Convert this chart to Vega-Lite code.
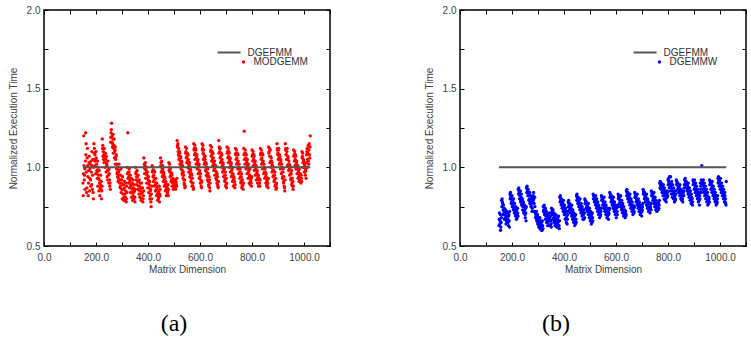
{
"$schema":"https://vega.github.io/schema/vega-lite/v6.json",
"padding":{"left":7,"top":4,"right":0,"bottom":0},
"config":{
 "view":{"stroke":"#000","strokeWidth":1.5},
 "axis":{"labelFont":"Liberation Sans","labelFontSize":10,"labelColor":"#444","titleFont":"Liberation Sans","titleFontSize":10,"titleFontWeight":"normal","titleColor":"#444","tickColor":"#000","tickWidth":1,"domain":false,"grid":false,"labelOverlap":false,"labelFlush":false},
 "legend":{"labelFont":"Liberation Sans","labelFontSize":10,"labelColor":"#333","padding":0},
 "title":{"font":"Liberation Serif","fontSize":24,"fontWeight":"normal","color":"#000"}
},
"datasets":{
"r":[{"x":150,"x2":1024,"y":1}],
"a":[{"x":150,"y":0.90},{"x":152,"y":0.96},{"x":154,"y":1.01},{"x":156,"y":0.95},{"x":158,"y":0.86},
{"x":160,"y":1.22},{"x":162,"y":1.15},{"x":164,"y":0.84},{"x":166,"y":1.06},{"x":168,"y":1.01},{"x":170,"y":0.82},{"x":172,"y":0.98},{"x":174,"y":1.07},{"x":176,"y":0.93},{"x":178,"y":1.02},{"x":180,"y":0.88},{"x":182,"y":0.97},{"x":184,"y":1.10},{"x":186,"y":0.86},{"x":188,"y":1.05},{"x":190,"y":0.80},
{"x":192,"y":1.15},{"x":194,"y":1.12},{"x":196,"y":1.08},{"x":198,"y":1.05},{"x":200,"y":1.10},{"x":202,"y":1.02},{"x":204,"y":0.97},{"x":206,"y":1.04},{"x":208,"y":1.00},{"x":210,"y":0.93},{"x":212,"y":0.98},{"x":214,"y":0.90},{"x":216,"y":0.87},{"x":218,"y":0.95},{"x":220,"y":0.91},{"x":222,"y":0.85},
{"x":224,"y":1.18},{"x":226,"y":1.14},{"x":228,"y":1.10},{"x":230,"y":1.08},{"x":232,"y":1.12},{"x":234,"y":1.06},{"x":236,"y":1.09},{"x":238,"y":1.03},{"x":240,"y":1.07},{"x":242,"y":1.01},{"x":244,"y":0.98},{"x":246,"y":1.04},{"x":248,"y":0.95},{"x":250,"y":0.99},{"x":252,"y":0.92},{"x":254,"y":0.90},
{"x":256,"y":1.16},{"x":258,"y":1.22},{"x":260,"y":1.28},{"x":262,"y":1.20},{"x":264,"y":1.15},{"x":266,"y":1.21},{"x":268,"y":1.12},{"x":270,"y":1.18},{"x":272,"y":1.10},{"x":274,"y":1.13},{"x":276,"y":1.05},{"x":278,"y":1.08},{"x":280,"y":1.02},{"x":282,"y":0.97},{"x":284,"y":1.00},{"x":286,"y":0.93},
{"x":288,"y":1.02},{"x":290,"y":0.95},{"x":292,"y":0.92},{"x":294,"y":0.88},{"x":296,"y":0.99},{"x":298,"y":0.90},{"x":300,"y":0.86},{"x":302,"y":0.94},{"x":304,"y":0.83},{"x":306,"y":0.89},{"x":308,"y":0.81},{"x":310,"y":0.91},{"x":312,"y":0.79},{"x":314,"y":0.85},{"x":316,"y":0.78},{"x":318,"y":0.88},
{"x":320,"y":1.00},{"x":322,"y":1.22},{"x":324,"y":0.97},{"x":326,"y":0.94},{"x":328,"y":0.99},{"x":330,"y":0.91},{"x":332,"y":0.95},{"x":334,"y":0.88},{"x":336,"y":0.93},{"x":338,"y":0.84},{"x":340,"y":0.90},{"x":342,"y":0.82},{"x":344,"y":0.87},{"x":346,"y":0.80},{"x":348,"y":0.85},{"x":350,"y":0.78},
{"x":352,"y":1.00},{"x":354,"y":0.97},{"x":356,"y":0.94},{"x":358,"y":0.98},{"x":360,"y":0.91},{"x":362,"y":0.95},{"x":364,"y":0.88},{"x":366,"y":0.92},{"x":368,"y":0.85},{"x":370,"y":0.90},{"x":372,"y":0.83},{"x":374,"y":0.87},{"x":376,"y":0.80},{"x":378,"y":0.84},{"x":380,"y":0.78},{"x":382,"y":0.82},
{"x":384,"y":1.06},{"x":386,"y":1.02},{"x":388,"y":0.99},{"x":390,"y":1.03},{"x":392,"y":0.96},{"x":394,"y":1.00},{"x":396,"y":0.93},{"x":398,"y":0.97},{"x":400,"y":0.90},{"x":402,"y":0.94},{"x":404,"y":0.87},{"x":406,"y":0.91},{"x":408,"y":0.82},{"x":410,"y":0.86},{"x":412,"y":0.75},{"x":414,"y":0.80},
{"x":416,"y":1.01},{"x":418,"y":0.98},{"x":420,"y":1.00},{"x":422,"y":0.95},{"x":424,"y":0.92},{"x":426,"y":0.97},{"x":428,"y":0.89},{"x":430,"y":0.93},{"x":432,"y":0.86},{"x":434,"y":0.90},{"x":436,"y":0.83},{"x":438,"y":0.88},{"x":440,"y":0.80},{"x":442,"y":0.85},{"x":444,"y":0.78},{"x":446,"y":0.82},
{"x":448,"y":1.06},{"x":450,"y":1.03},{"x":452,"y":1.00},{"x":454,"y":0.98},{"x":456,"y":1.01},{"x":458,"y":0.95},{"x":460,"y":0.97},{"x":462,"y":0.92},{"x":464,"y":0.94},{"x":466,"y":0.89},{"x":468,"y":0.91},{"x":470,"y":0.86},{"x":472,"y":0.88},{"x":474,"y":0.83},{"x":476,"y":0.85},{"x":478,"y":0.82},
{"x":480,"y":1.03},{"x":482,"y":1.00},{"x":484,"y":0.97},{"x":486,"y":0.99},{"x":488,"y":0.95},{"x":490,"y":0.92},{"x":492,"y":0.96},{"x":494,"y":0.90},{"x":496,"y":0.93},{"x":498,"y":0.88},{"x":500,"y":0.91},{"x":502,"y":0.87},{"x":504,"y":0.89},{"x":506,"y":0.86},{"x":508,"y":0.90},{"x":510,"y":0.88},
{"x":512,"y":1.17},{"x":514,"y":1.14},{"x":516,"y":1.10},{"x":518,"y":1.12},{"x":520,"y":1.07},{"x":522,"y":1.09},{"x":524,"y":1.04},{"x":526,"y":1.06},{"x":528,"y":1.01},{"x":530,"y":1.03},{"x":532,"y":0.98},{"x":534,"y":0.95},{"x":536,"y":0.97},{"x":538,"y":0.92},{"x":540,"y":0.89},{"x":542,"y":0.87},
{"x":544,"y":1.13},{"x":546,"y":1.10},{"x":548,"y":1.12},{"x":550,"y":1.07},{"x":552,"y":1.04},{"x":554,"y":1.08},{"x":556,"y":1.02},{"x":558,"y":0.99},{"x":560,"y":1.03},{"x":562,"y":0.96},{"x":564,"y":0.98},{"x":566,"y":0.93},{"x":568,"y":0.95},{"x":570,"y":0.90},{"x":572,"y":0.88},{"x":574,"y":0.86},
{"x":576,"y":1.15},{"x":578,"y":1.12},{"x":580,"y":1.14},{"x":582,"y":1.09},{"x":584,"y":1.11},{"x":586,"y":1.06},{"x":588,"y":1.08},{"x":590,"y":1.03},{"x":592,"y":1.05},{"x":594,"y":1.00},{"x":596,"y":1.02},{"x":598,"y":0.97},{"x":600,"y":0.94},{"x":602,"y":0.96},{"x":604,"y":0.90},{"x":606,"y":0.87},
{"x":608,"y":1.15},{"x":610,"y":1.12},{"x":612,"y":1.09},{"x":614,"y":1.11},{"x":616,"y":1.06},{"x":618,"y":1.03},{"x":620,"y":1.07},{"x":622,"y":1.00},{"x":624,"y":1.02},{"x":626,"y":0.97},{"x":628,"y":0.94},{"x":630,"y":0.99},{"x":632,"y":0.91},{"x":634,"y":0.88},{"x":636,"y":0.92},{"x":638,"y":0.85},
{"x":640,"y":1.14},{"x":642,"y":1.11},{"x":644,"y":1.13},{"x":646,"y":1.08},{"x":648,"y":1.05},{"x":650,"y":1.09},{"x":652,"y":1.03},{"x":654,"y":1.00},{"x":656,"y":1.04},{"x":658,"y":0.98},{"x":660,"y":1.01},{"x":662,"y":0.95},{"x":664,"y":0.92},{"x":666,"y":0.96},{"x":668,"y":0.89},{"x":670,"y":0.87},
{"x":672,"y":1.17},{"x":674,"y":1.13},{"x":676,"y":1.10},{"x":678,"y":1.12},{"x":680,"y":1.07},{"x":682,"y":1.04},{"x":684,"y":1.08},{"x":686,"y":1.01},{"x":688,"y":1.03},{"x":690,"y":0.98},{"x":692,"y":1.00},{"x":694,"y":0.95},{"x":696,"y":0.92},{"x":698,"y":0.97},{"x":700,"y":0.89},{"x":702,"y":0.87},
{"x":704,"y":1.13},{"x":706,"y":1.10},{"x":708,"y":1.12},{"x":710,"y":1.07},{"x":712,"y":1.09},{"x":714,"y":1.04},{"x":716,"y":1.06},{"x":718,"y":1.01},{"x":720,"y":1.03},{"x":722,"y":0.98},{"x":724,"y":0.95},{"x":726,"y":1.00},{"x":728,"y":0.92},{"x":730,"y":0.94},{"x":732,"y":0.89},{"x":734,"y":0.87},
{"x":736,"y":1.12},{"x":738,"y":1.09},{"x":740,"y":1.11},{"x":742,"y":1.06},{"x":744,"y":1.03},{"x":746,"y":1.08},{"x":748,"y":1.00},{"x":750,"y":1.02},{"x":752,"y":0.97},{"x":754,"y":0.99},{"x":756,"y":0.94},{"x":758,"y":0.91},{"x":760,"y":0.96},{"x":762,"y":0.88},{"x":764,"y":0.90},{"x":766,"y":0.86},
{"x":768,"y":1.12},{"x":770,"y":1.23},{"x":772,"y":1.09},{"x":774,"y":1.11},{"x":776,"y":1.06},{"x":778,"y":1.08},{"x":780,"y":1.03},{"x":782,"y":1.05},{"x":784,"y":1.00},{"x":786,"y":1.02},{"x":788,"y":0.97},{"x":790,"y":0.94},{"x":792,"y":0.99},{"x":794,"y":0.91},{"x":796,"y":0.93},{"x":798,"y":0.88},
{"x":800,"y":1.11},{"x":802,"y":1.08},{"x":804,"y":1.10},{"x":806,"y":1.05},{"x":808,"y":1.07},{"x":810,"y":1.02},{"x":812,"y":1.04},{"x":814,"y":0.99},{"x":816,"y":1.01},{"x":818,"y":0.96},{"x":820,"y":0.98},{"x":822,"y":0.93},{"x":824,"y":0.95},{"x":826,"y":0.90},{"x":828,"y":0.92},{"x":830,"y":0.88},
{"x":832,"y":1.12},{"x":834,"y":1.09},{"x":836,"y":1.11},{"x":838,"y":1.06},{"x":840,"y":1.03},{"x":842,"y":1.08},{"x":844,"y":1.00},{"x":846,"y":1.02},{"x":848,"y":0.97},{"x":850,"y":0.99},{"x":852,"y":0.94},{"x":854,"y":0.96},{"x":856,"y":0.91},{"x":858,"y":0.89},{"x":860,"y":0.93},{"x":862,"y":0.87},
{"x":864,"y":1.13},{"x":866,"y":1.10},{"x":868,"y":1.07},{"x":870,"y":1.11},{"x":872,"y":1.04},{"x":874,"y":1.06},{"x":876,"y":1.01},{"x":878,"y":1.03},{"x":880,"y":0.98},{"x":882,"y":1.00},{"x":884,"y":0.95},{"x":886,"y":0.92},{"x":888,"y":0.97},{"x":890,"y":0.89},{"x":892,"y":0.86},{"x":894,"y":0.90},
{"x":896,"y":1.15},{"x":898,"y":1.12},{"x":900,"y":1.09},{"x":902,"y":1.11},{"x":904,"y":1.06},{"x":906,"y":1.08},{"x":908,"y":1.03},{"x":910,"y":1.05},{"x":912,"y":1.00},{"x":914,"y":1.02},{"x":916,"y":0.97},{"x":918,"y":0.94},{"x":920,"y":0.99},{"x":922,"y":0.91},{"x":924,"y":0.88},{"x":926,"y":0.85},
{"x":928,"y":1.15},{"x":930,"y":1.12},{"x":932,"y":1.08},{"x":934,"y":1.10},{"x":936,"y":1.05},{"x":938,"y":1.07},{"x":940,"y":1.02},{"x":942,"y":1.04},{"x":944,"y":0.99},{"x":946,"y":1.01},{"x":948,"y":0.96},{"x":950,"y":0.93},{"x":952,"y":0.98},{"x":954,"y":0.90},{"x":956,"y":0.88},{"x":958,"y":0.86},
{"x":960,"y":1.11},{"x":962,"y":1.08},{"x":964,"y":1.10},{"x":966,"y":1.05},{"x":968,"y":1.07},{"x":970,"y":1.02},{"x":972,"y":1.04},{"x":974,"y":0.99},{"x":976,"y":1.01},{"x":978,"y":0.97},{"x":980,"y":0.94},{"x":982,"y":0.99},{"x":984,"y":0.92},{"x":986,"y":0.96},{"x":988,"y":0.90},{"x":990,"y":0.93},
{"x":992,"y":1.10},{"x":994,"y":1.07},{"x":996,"y":1.03},{"x":998,"y":1.05},{"x":1000,"y":1.00},{"x":1002,"y":1.02},{"x":1004,"y":0.97},{"x":1006,"y":0.99},{"x":1008,"y":0.93},{"x":1010,"y":1.08},{"x":1012,"y":1.12},{"x":1014,"y":1.05},{"x":1016,"y":1.14},{"x":1018,"y":1.02},{"x":1020,"y":1.15},{"x":1022,"y":1.06},{"x":1024,"y":1.20},
{"x":151,"y":0.82},{"x":153,"y":1.20},{"x":155,"y":0.92},{"x":157,"y":0.99},{"x":159,"y":1.04},
{"x":161,"y":1.08},{"x":163,"y":0.97},{"x":165,"y":0.87},{"x":167,"y":1.12},{"x":169,"y":0.94},{"x":171,"y":0.90},{"x":173,"y":1.03},{"x":175,"y":0.85},{"x":177,"y":0.99},{"x":179,"y":0.92},{"x":181,"y":1.04},{"x":183,"y":0.89},{"x":185,"y":1.01},{"x":187,"y":0.95},{"x":189,"y":0.84},{"x":191,"y":1.00},
{"x":193,"y":1.09},{"x":195,"y":1.04},{"x":197,"y":1.01},{"x":199,"y":0.96},{"x":201,"y":1.06},{"x":203,"y":0.98},{"x":205,"y":0.93},{"x":207,"y":0.88},{"x":209,"y":0.95},{"x":211,"y":0.85},{"x":213,"y":0.92},{"x":215,"y":0.82},{"x":217,"y":0.89},{"x":219,"y":0.86},{"x":221,"y":0.80},{"x":223,"y":0.88},
{"x":225,"y":1.12},{"x":227,"y":1.07},{"x":229,"y":1.05},{"x":231,"y":1.03},{"x":233,"y":1.08},{"x":235,"y":1.00},{"x":237,"y":1.05},{"x":239,"y":0.97},{"x":241,"y":1.02},{"x":243,"y":0.94},{"x":245,"y":0.92},{"x":247,"y":0.98},{"x":249,"y":0.90},{"x":251,"y":0.96},{"x":253,"y":0.88},{"x":255,"y":0.86},
{"x":257,"y":1.19},{"x":259,"y":1.24},{"x":261,"y":1.16},{"x":263,"y":1.13},{"x":265,"y":1.18},{"x":267,"y":1.09},{"x":269,"y":1.14},{"x":271,"y":1.06},{"x":273,"y":1.11},{"x":275,"y":1.02},{"x":277,"y":1.07},{"x":279,"y":0.99},{"x":281,"y":0.96},{"x":283,"y":0.94},{"x":285,"y":0.91},{"x":287,"y":0.97},
{"x":289,"y":0.98},{"x":291,"y":0.90},{"x":293,"y":0.87},{"x":295,"y":0.95},{"x":297,"y":0.84},{"x":299,"y":0.92},{"x":301,"y":0.80},{"x":303,"y":0.89},{"x":305,"y":0.86},{"x":307,"y":0.79},{"x":309,"y":0.87},{"x":311,"y":0.83},{"x":313,"y":0.81},{"x":315,"y":0.90},{"x":317,"y":0.80},{"x":319,"y":0.84},
{"x":321,"y":0.96},{"x":323,"y":0.93},{"x":325,"y":0.90},{"x":327,"y":0.97},{"x":329,"y":0.87},{"x":331,"y":0.92},{"x":333,"y":0.84},{"x":335,"y":0.89},{"x":337,"y":0.81},{"x":339,"y":0.86},{"x":341,"y":0.79},{"x":343,"y":0.92},{"x":345,"y":0.84},{"x":347,"y":0.89},{"x":349,"y":0.81},{"x":351,"y":0.86},
{"x":353,"y":0.96},{"x":355,"y":0.92},{"x":357,"y":0.89},{"x":359,"y":0.94},{"x":361,"y":0.86},{"x":363,"y":0.91},{"x":365,"y":0.83},{"x":367,"y":0.88},{"x":369,"y":0.81},{"x":371,"y":0.86},{"x":373,"y":0.79},{"x":375,"y":0.90},{"x":377,"y":0.84},{"x":379,"y":0.87},{"x":381,"y":0.80},{"x":383,"y":0.85},
{"x":385,"y":1.00},{"x":387,"y":0.96},{"x":389,"y":1.01},{"x":391,"y":0.93},{"x":393,"y":0.98},{"x":395,"y":0.90},{"x":397,"y":0.95},{"x":399,"y":0.87},{"x":401,"y":0.92},{"x":403,"y":0.84},{"x":405,"y":0.89},{"x":407,"y":0.80},{"x":409,"y":0.85},{"x":411,"y":0.78},{"x":413,"y":0.83},{"x":415,"y":0.88},
{"x":417,"y":0.97},{"x":419,"y":0.94},{"x":421,"y":0.91},{"x":423,"y":0.98},{"x":425,"y":0.88},{"x":427,"y":0.93},{"x":429,"y":0.85},{"x":431,"y":0.90},{"x":433,"y":0.82},{"x":435,"y":0.87},{"x":437,"y":0.79},{"x":439,"y":0.84},{"x":441,"y":0.81},{"x":443,"y":0.88},{"x":445,"y":0.83},{"x":447,"y":0.86},
{"x":449,"y":1.01},{"x":451,"y":0.97},{"x":453,"y":1.04},{"x":455,"y":0.94},{"x":457,"y":0.99},{"x":459,"y":0.91},{"x":461,"y":0.96},{"x":463,"y":0.88},{"x":465,"y":0.93},{"x":467,"y":0.85},{"x":469,"y":0.90},{"x":471,"y":0.82},{"x":473,"y":0.87},{"x":475,"y":0.84},{"x":477,"y":0.89},{"x":479,"y":0.86},
{"x":481,"y":0.98},{"x":483,"y":1.02},{"x":485,"y":0.94},{"x":487,"y":0.97},{"x":489,"y":0.91},{"x":491,"y":0.95},{"x":493,"y":0.88},{"x":495,"y":0.92},{"x":497,"y":0.86},{"x":499,"y":0.90},{"x":501,"y":0.88},{"x":503,"y":0.92},{"x":505,"y":0.87},{"x":507,"y":0.91},{"x":509,"y":0.89},{"x":511,"y":0.93},
{"x":513,"y":1.13},{"x":515,"y":1.15},{"x":517,"y":1.08},{"x":519,"y":1.05},{"x":521,"y":1.10},{"x":523,"y":1.02},{"x":525,"y":1.07},{"x":527,"y":0.99},{"x":529,"y":1.04},{"x":531,"y":0.96},{"x":533,"y":1.01},{"x":535,"y":0.93},{"x":537,"y":0.95},{"x":539,"y":0.90},{"x":541,"y":0.92},{"x":543,"y":0.88},
{"x":545,"y":1.09},{"x":547,"y":1.06},{"x":549,"y":1.03},{"x":551,"y":1.09},{"x":553,"y":1.00},{"x":555,"y":1.05},{"x":557,"y":0.97},{"x":559,"y":1.01},{"x":561,"y":0.94},{"x":563,"y":0.99},{"x":565,"y":0.91},{"x":567,"y":0.96},{"x":569,"y":0.88},{"x":571,"y":0.93},{"x":573,"y":0.90},{"x":575,"y":0.87},
{"x":577,"y":1.11},{"x":579,"y":1.08},{"x":581,"y":1.05},{"x":583,"y":1.12},{"x":585,"y":1.02},{"x":587,"y":1.07},{"x":589,"y":0.99},{"x":591,"y":1.04},{"x":593,"y":0.96},{"x":595,"y":1.01},{"x":597,"y":0.93},{"x":599,"y":0.98},{"x":601,"y":0.90},{"x":603,"y":0.92},{"x":605,"y":0.88},{"x":607,"y":0.91},
{"x":609,"y":1.11},{"x":611,"y":1.14},{"x":613,"y":1.05},{"x":615,"y":1.08},{"x":617,"y":1.02},{"x":619,"y":1.05},{"x":621,"y":0.98},{"x":623,"y":1.03},{"x":625,"y":0.95},{"x":627,"y":1.00},{"x":629,"y":0.92},{"x":631,"y":0.96},{"x":633,"y":0.89},{"x":635,"y":0.94},{"x":637,"y":0.87},{"x":639,"y":0.90},
{"x":641,"y":1.10},{"x":643,"y":1.07},{"x":645,"y":1.04},{"x":647,"y":1.10},{"x":649,"y":1.01},{"x":651,"y":1.06},{"x":653,"y":0.98},{"x":655,"y":1.02},{"x":657,"y":0.95},{"x":659,"y":1.00},{"x":661,"y":0.93},{"x":663,"y":0.97},{"x":665,"y":0.90},{"x":667,"y":0.94},{"x":669,"y":0.88},{"x":671,"y":0.91},
{"x":673,"y":1.09},{"x":675,"y":1.12},{"x":677,"y":1.06},{"x":679,"y":1.03},{"x":681,"y":1.09},{"x":683,"y":1.00},{"x":685,"y":1.05},{"x":687,"y":0.97},{"x":689,"y":1.02},{"x":691,"y":0.94},{"x":693,"y":0.99},{"x":695,"y":0.91},{"x":697,"y":0.95},{"x":699,"y":0.88},{"x":701,"y":0.93},{"x":703,"y":0.90},
{"x":705,"y":1.09},{"x":707,"y":1.06},{"x":709,"y":1.03},{"x":711,"y":1.10},{"x":713,"y":1.00},{"x":715,"y":1.05},{"x":717,"y":0.97},{"x":719,"y":1.02},{"x":721,"y":0.94},{"x":723,"y":0.99},{"x":725,"y":0.91},{"x":727,"y":0.96},{"x":729,"y":0.88},{"x":731,"y":0.93},{"x":733,"y":0.91},{"x":735,"y":0.89},
{"x":737,"y":1.08},{"x":739,"y":1.05},{"x":741,"y":1.02},{"x":743,"y":1.09},{"x":745,"y":0.99},{"x":747,"y":1.04},{"x":749,"y":0.96},{"x":751,"y":1.00},{"x":753,"y":0.93},{"x":755,"y":0.97},{"x":757,"y":0.90},{"x":759,"y":0.94},{"x":761,"y":0.87},{"x":763,"y":0.92},{"x":765,"y":0.89},{"x":767,"y":0.90},
{"x":769,"y":1.08},{"x":771,"y":1.05},{"x":773,"y":1.02},{"x":775,"y":1.09},{"x":777,"y":0.99},{"x":779,"y":1.04},{"x":781,"y":0.96},{"x":783,"y":1.01},{"x":785,"y":0.93},{"x":787,"y":0.98},{"x":789,"y":0.90},{"x":791,"y":0.95},{"x":793,"y":0.89},{"x":795,"y":0.92},{"x":797,"y":0.90},{"x":799,"y":0.94},
{"x":801,"y":1.07},{"x":803,"y":1.04},{"x":805,"y":1.01},{"x":807,"y":1.08},{"x":809,"y":0.98},{"x":811,"y":1.03},{"x":813,"y":0.95},{"x":815,"y":1.00},{"x":817,"y":0.92},{"x":819,"y":0.97},{"x":821,"y":0.90},{"x":823,"y":0.94},{"x":825,"y":0.88},{"x":827,"y":0.93},{"x":829,"y":0.90},{"x":831,"y":0.92},
{"x":833,"y":1.08},{"x":835,"y":1.05},{"x":837,"y":1.02},{"x":839,"y":1.09},{"x":841,"y":0.99},{"x":843,"y":1.04},{"x":845,"y":0.96},{"x":847,"y":1.00},{"x":849,"y":0.93},{"x":851,"y":0.97},{"x":853,"y":0.90},{"x":855,"y":0.94},{"x":857,"y":0.88},{"x":859,"y":0.92},{"x":861,"y":0.90},{"x":863,"y":0.93},
{"x":865,"y":1.09},{"x":867,"y":1.12},{"x":869,"y":1.03},{"x":871,"y":1.07},{"x":873,"y":1.00},{"x":875,"y":1.04},{"x":877,"y":0.97},{"x":879,"y":1.01},{"x":881,"y":0.94},{"x":883,"y":0.98},{"x":885,"y":0.91},{"x":887,"y":0.95},{"x":889,"y":0.88},{"x":891,"y":0.93},{"x":893,"y":0.89},{"x":895,"y":0.87},
{"x":897,"y":1.11},{"x":899,"y":1.08},{"x":901,"y":1.05},{"x":903,"y":1.12},{"x":905,"y":1.02},{"x":907,"y":1.07},{"x":909,"y":0.99},{"x":911,"y":1.04},{"x":913,"y":0.96},{"x":915,"y":1.00},{"x":917,"y":0.93},{"x":919,"y":0.97},{"x":921,"y":0.90},{"x":923,"y":0.94},{"x":925,"y":0.87},{"x":927,"y":0.92},
{"x":929,"y":1.11},{"x":931,"y":1.08},{"x":933,"y":1.05},{"x":935,"y":1.12},{"x":937,"y":1.01},{"x":939,"y":1.06},{"x":941,"y":0.98},{"x":943,"y":1.02},{"x":945,"y":0.95},{"x":947,"y":1.00},{"x":949,"y":0.92},{"x":951,"y":0.96},{"x":953,"y":0.89},{"x":955,"y":0.93},{"x":957,"y":0.91},{"x":959,"y":0.88},
{"x":961,"y":1.07},{"x":963,"y":1.04},{"x":965,"y":1.01},{"x":967,"y":1.08},{"x":969,"y":0.99},{"x":971,"y":1.03},{"x":973,"y":0.96},{"x":975,"y":1.00},{"x":977,"y":0.93},{"x":979,"y":0.98},{"x":981,"y":0.91},{"x":983,"y":0.95},{"x":985,"y":0.94},{"x":987,"y":0.92},{"x":989,"y":0.95},{"x":991,"y":0.91},
{"x":993,"y":1.06},{"x":995,"y":1.09},{"x":997,"y":1.00},{"x":999,"y":1.04},{"x":1001,"y":0.97},{"x":1003,"y":1.01},{"x":1005,"y":0.95},{"x":1007,"y":0.98},{"x":1009,"y":1.03},{"x":1011,"y":1.10},{"x":1013,"y":1.00},{"x":1015,"y":1.09},{"x":1017,"y":1.04},{"x":1019,"y":1.11},{"x":1021,"y":1.08},{"x":1023,"y":1.13}],
"b":[{"x":150,"y":0.63},{"x":152,"y":0.71},{"x":154,"y":0.66},{"x":156,"y":0.60},{"x":158,"y":0.65},
{"x":160,"y":0.79},{"x":162,"y":0.80},{"x":164,"y":0.77},{"x":166,"y":0.73},{"x":168,"y":0.70},{"x":170,"y":0.74},{"x":172,"y":0.72},{"x":174,"y":0.68},{"x":176,"y":0.71},{"x":178,"y":0.66},{"x":180,"y":0.69},{"x":182,"y":0.65},{"x":184,"y":0.67},{"x":186,"y":0.63},{"x":188,"y":0.70},{"x":190,"y":0.62},
{"x":192,"y":0.83},{"x":194,"y":0.84},{"x":196,"y":0.81},{"x":198,"y":0.78},{"x":200,"y":0.82},{"x":202,"y":0.79},{"x":204,"y":0.76},{"x":206,"y":0.80},{"x":208,"y":0.74},{"x":210,"y":0.77},{"x":212,"y":0.72},{"x":214,"y":0.75},{"x":216,"y":0.70},{"x":218,"y":0.73},{"x":220,"y":0.68},{"x":222,"y":0.71},
{"x":224,"y":0.86},{"x":226,"y":0.87},{"x":228,"y":0.84},{"x":230,"y":0.82},{"x":232,"y":0.85},{"x":234,"y":0.79},{"x":236,"y":0.83},{"x":238,"y":0.77},{"x":240,"y":0.80},{"x":242,"y":0.75},{"x":244,"y":0.78},{"x":246,"y":0.72},{"x":248,"y":0.76},{"x":250,"y":0.70},{"x":252,"y":0.74},{"x":254,"y":0.66},
{"x":256,"y":0.87},{"x":258,"y":0.88},{"x":260,"y":0.85},{"x":262,"y":0.86},{"x":264,"y":0.83},{"x":266,"y":0.80},{"x":268,"y":0.84},{"x":270,"y":0.78},{"x":272,"y":0.82},{"x":274,"y":0.76},{"x":276,"y":0.80},{"x":278,"y":0.74},{"x":280,"y":0.78},{"x":282,"y":0.82},{"x":284,"y":0.80},{"x":286,"y":0.72},
{"x":288,"y":0.75},{"x":290,"y":0.71},{"x":292,"y":0.69},{"x":294,"y":0.72},{"x":296,"y":0.67},{"x":298,"y":0.70},{"x":300,"y":0.65},{"x":302,"y":0.68},{"x":304,"y":0.63},{"x":306,"y":0.66},{"x":308,"y":0.61},{"x":310,"y":0.64},{"x":312,"y":0.62},{"x":314,"y":0.65},{"x":316,"y":0.60},{"x":318,"y":0.63},
{"x":320,"y":0.75},{"x":322,"y":0.73},{"x":324,"y":0.76},{"x":326,"y":0.71},{"x":328,"y":0.74},{"x":330,"y":0.69},{"x":332,"y":0.72},{"x":334,"y":0.67},{"x":336,"y":0.70},{"x":338,"y":0.65},{"x":340,"y":0.68},{"x":342,"y":0.63},{"x":344,"y":0.71},{"x":346,"y":0.66},{"x":348,"y":0.69},{"x":350,"y":0.64},
{"x":352,"y":0.74},{"x":354,"y":0.72},{"x":356,"y":0.70},{"x":358,"y":0.73},{"x":360,"y":0.68},{"x":362,"y":0.71},{"x":364,"y":0.66},{"x":366,"y":0.69},{"x":368,"y":0.64},{"x":370,"y":0.67},{"x":372,"y":0.62},{"x":374,"y":0.65},{"x":376,"y":0.68},{"x":378,"y":0.63},{"x":380,"y":0.66},{"x":382,"y":0.61},
{"x":384,"y":0.81},{"x":386,"y":0.82},{"x":388,"y":0.79},{"x":390,"y":0.80},{"x":392,"y":0.77},{"x":394,"y":0.78},{"x":396,"y":0.75},{"x":398,"y":0.79},{"x":400,"y":0.73},{"x":402,"y":0.76},{"x":404,"y":0.71},{"x":406,"y":0.74},{"x":408,"y":0.68},{"x":410,"y":0.72},{"x":412,"y":0.64},{"x":414,"y":0.70},
{"x":416,"y":0.78},{"x":418,"y":0.79},{"x":420,"y":0.76},{"x":422,"y":0.77},{"x":424,"y":0.74},{"x":426,"y":0.75},{"x":428,"y":0.72},{"x":430,"y":0.76},{"x":432,"y":0.70},{"x":434,"y":0.73},{"x":436,"y":0.68},{"x":438,"y":0.71},{"x":440,"y":0.66},{"x":442,"y":0.69},{"x":444,"y":0.64},{"x":446,"y":0.67},
{"x":448,"y":0.82},{"x":450,"y":0.83},{"x":452,"y":0.80},{"x":454,"y":0.81},{"x":456,"y":0.78},{"x":458,"y":0.79},{"x":460,"y":0.76},{"x":462,"y":0.80},{"x":464,"y":0.74},{"x":466,"y":0.77},{"x":468,"y":0.72},{"x":470,"y":0.75},{"x":472,"y":0.70},{"x":474,"y":0.73},{"x":476,"y":0.67},{"x":478,"y":0.71},
{"x":480,"y":0.80},{"x":482,"y":0.79},{"x":484,"y":0.77},{"x":486,"y":0.78},{"x":488,"y":0.75},{"x":490,"y":0.76},{"x":492,"y":0.73},{"x":494,"y":0.77},{"x":496,"y":0.71},{"x":498,"y":0.74},{"x":500,"y":0.69},{"x":502,"y":0.72},{"x":504,"y":0.67},{"x":506,"y":0.70},{"x":508,"y":0.65},{"x":510,"y":0.68},
{"x":512,"y":0.83},{"x":514,"y":0.82},{"x":516,"y":0.80},{"x":518,"y":0.81},{"x":520,"y":0.79},{"x":522,"y":0.82},{"x":524,"y":0.77},{"x":526,"y":0.80},{"x":528,"y":0.75},{"x":530,"y":0.78},{"x":532,"y":0.73},{"x":534,"y":0.76},{"x":536,"y":0.71},{"x":538,"y":0.74},{"x":540,"y":0.69},{"x":542,"y":0.72},
{"x":544,"y":0.82},{"x":546,"y":0.81},{"x":548,"y":0.79},{"x":550,"y":0.80},{"x":552,"y":0.77},{"x":554,"y":0.81},{"x":556,"y":0.75},{"x":558,"y":0.78},{"x":560,"y":0.73},{"x":562,"y":0.76},{"x":564,"y":0.71},{"x":566,"y":0.74},{"x":568,"y":0.69},{"x":570,"y":0.72},{"x":572,"y":0.70},{"x":574,"y":0.73},
{"x":576,"y":0.84},{"x":578,"y":0.83},{"x":580,"y":0.81},{"x":582,"y":0.82},{"x":584,"y":0.79},{"x":586,"y":0.80},{"x":588,"y":0.77},{"x":590,"y":0.81},{"x":592,"y":0.75},{"x":594,"y":0.78},{"x":596,"y":0.73},{"x":598,"y":0.76},{"x":600,"y":0.71},{"x":602,"y":0.74},{"x":604,"y":0.72},{"x":606,"y":0.75},
{"x":608,"y":0.83},{"x":610,"y":0.82},{"x":612,"y":0.80},{"x":614,"y":0.81},{"x":616,"y":0.78},{"x":618,"y":0.82},{"x":620,"y":0.76},{"x":622,"y":0.79},{"x":624,"y":0.74},{"x":626,"y":0.77},{"x":628,"y":0.72},{"x":630,"y":0.75},{"x":632,"y":0.70},{"x":634,"y":0.73},{"x":636,"y":0.71},{"x":638,"y":0.69},
{"x":640,"y":0.85},{"x":642,"y":0.86},{"x":644,"y":0.83},{"x":646,"y":0.84},{"x":648,"y":0.81},{"x":650,"y":0.82},{"x":652,"y":0.79},{"x":654,"y":0.83},{"x":656,"y":0.77},{"x":658,"y":0.80},{"x":660,"y":0.75},{"x":662,"y":0.78},{"x":664,"y":0.73},{"x":666,"y":0.76},{"x":668,"y":0.74},{"x":670,"y":0.72},
{"x":672,"y":0.84},{"x":674,"y":0.83},{"x":676,"y":0.81},{"x":678,"y":0.82},{"x":680,"y":0.79},{"x":682,"y":0.83},{"x":684,"y":0.77},{"x":686,"y":0.80},{"x":688,"y":0.75},{"x":690,"y":0.78},{"x":692,"y":0.73},{"x":694,"y":0.76},{"x":696,"y":0.71},{"x":698,"y":0.74},{"x":700,"y":0.72},{"x":702,"y":0.75},
{"x":704,"y":0.86},{"x":706,"y":0.85},{"x":708,"y":0.83},{"x":710,"y":0.84},{"x":712,"y":0.81},{"x":714,"y":0.82},{"x":716,"y":0.79},{"x":718,"y":0.83},{"x":720,"y":0.77},{"x":722,"y":0.80},{"x":724,"y":0.75},{"x":726,"y":0.78},{"x":728,"y":0.73},{"x":730,"y":0.76},{"x":732,"y":0.74},{"x":734,"y":0.77},
{"x":736,"y":0.85},{"x":738,"y":0.84},{"x":740,"y":0.82},{"x":742,"y":0.83},{"x":744,"y":0.80},{"x":746,"y":0.84},{"x":748,"y":0.78},{"x":750,"y":0.81},{"x":752,"y":0.76},{"x":754,"y":0.79},{"x":756,"y":0.74},{"x":758,"y":0.77},{"x":760,"y":0.75},{"x":762,"y":0.73},{"x":764,"y":0.78},{"x":766,"y":0.76},
{"x":768,"y":0.90},{"x":770,"y":0.91},{"x":772,"y":0.89},{"x":774,"y":0.90},{"x":776,"y":0.87},{"x":778,"y":0.88},{"x":780,"y":0.86},{"x":782,"y":0.89},{"x":784,"y":0.84},{"x":786,"y":0.87},{"x":788,"y":0.82},{"x":790,"y":0.85},{"x":792,"y":0.80},{"x":794,"y":0.83},{"x":796,"y":0.81},{"x":798,"y":0.84},
{"x":800,"y":0.92},{"x":802,"y":0.93},{"x":804,"y":0.90},{"x":806,"y":0.94},{"x":808,"y":0.88},{"x":810,"y":0.94},{"x":812,"y":0.87},{"x":814,"y":0.91},{"x":816,"y":0.85},{"x":818,"y":0.89},{"x":820,"y":0.83},{"x":822,"y":0.87},{"x":824,"y":0.81},{"x":826,"y":0.85},{"x":828,"y":0.79},{"x":830,"y":0.83},
{"x":832,"y":0.92},{"x":834,"y":0.91},{"x":836,"y":0.89},{"x":838,"y":0.90},{"x":840,"y":0.87},{"x":842,"y":0.88},{"x":844,"y":0.85},{"x":846,"y":0.89},{"x":848,"y":0.83},{"x":850,"y":0.86},{"x":852,"y":0.81},{"x":854,"y":0.84},{"x":856,"y":0.80},{"x":858,"y":0.82},{"x":860,"y":0.85},{"x":862,"y":0.87},
{"x":864,"y":0.92},{"x":866,"y":0.93},{"x":868,"y":0.90},{"x":870,"y":0.91},{"x":872,"y":0.88},{"x":874,"y":0.89},{"x":876,"y":0.86},{"x":878,"y":0.90},{"x":880,"y":0.84},{"x":882,"y":0.87},{"x":884,"y":0.82},{"x":886,"y":0.85},{"x":888,"y":0.80},{"x":890,"y":0.83},{"x":892,"y":0.78},{"x":894,"y":0.76},
{"x":896,"y":0.92},{"x":898,"y":0.91},{"x":900,"y":0.89},{"x":902,"y":0.92},{"x":904,"y":0.87},{"x":906,"y":0.90},{"x":908,"y":0.85},{"x":910,"y":0.88},{"x":912,"y":0.83},{"x":914,"y":0.86},{"x":916,"y":0.81},{"x":918,"y":0.84},{"x":920,"y":0.79},{"x":922,"y":0.82},{"x":924,"y":0.90},{"x":926,"y":0.88},
{"x":928,"y":0.92},{"x":930,"y":1.01},{"x":932,"y":0.91},{"x":934,"y":0.89},{"x":936,"y":0.92},{"x":938,"y":0.87},{"x":940,"y":0.90},{"x":942,"y":0.85},{"x":944,"y":0.88},{"x":946,"y":0.83},{"x":948,"y":0.86},{"x":950,"y":0.81},{"x":952,"y":0.84},{"x":954,"y":0.79},{"x":956,"y":0.77},{"x":958,"y":0.80},
{"x":960,"y":0.92},{"x":962,"y":0.91},{"x":964,"y":0.89},{"x":966,"y":0.90},{"x":968,"y":0.87},{"x":970,"y":0.91},{"x":972,"y":0.85},{"x":974,"y":0.88},{"x":976,"y":0.83},{"x":978,"y":0.86},{"x":980,"y":0.81},{"x":982,"y":0.84},{"x":984,"y":0.79},{"x":986,"y":0.82},{"x":988,"y":0.77},{"x":990,"y":0.80},
{"x":992,"y":0.93},{"x":994,"y":0.94},{"x":996,"y":0.91},{"x":998,"y":0.92},{"x":1000,"y":0.89},{"x":1002,"y":0.93},{"x":1004,"y":0.87},{"x":1006,"y":0.90},{"x":1008,"y":0.85},{"x":1010,"y":0.88},{"x":1012,"y":0.83},{"x":1014,"y":0.86},{"x":1016,"y":0.81},{"x":1018,"y":0.84},{"x":1020,"y":0.78},{"x":1022,"y":0.77},{"x":1024,"y":0.91},
{"x":151,"y":0.67},{"x":153,"y":0.64},{"x":155,"y":0.70},{"x":157,"y":0.62},{"x":159,"y":0.68},
{"x":161,"y":0.75},{"x":163,"y":0.78},{"x":165,"y":0.70},{"x":167,"y":0.76},{"x":169,"y":0.72},{"x":171,"y":0.67},{"x":173,"y":0.70},{"x":175,"y":0.73},{"x":177,"y":0.64},{"x":179,"y":0.72},{"x":181,"y":0.67},{"x":183,"y":0.71},{"x":185,"y":0.65},{"x":187,"y":0.69},{"x":189,"y":0.66},{"x":191,"y":0.72},
{"x":193,"y":0.80},{"x":195,"y":0.82},{"x":197,"y":0.77},{"x":199,"y":0.80},{"x":201,"y":0.75},{"x":203,"y":0.78},{"x":205,"y":0.73},{"x":207,"y":0.77},{"x":209,"y":0.71},{"x":211,"y":0.74},{"x":213,"y":0.69},{"x":215,"y":0.72},{"x":217,"y":0.67},{"x":219,"y":0.70},{"x":221,"y":0.74},{"x":223,"y":0.69},
{"x":225,"y":0.83},{"x":227,"y":0.85},{"x":229,"y":0.80},{"x":231,"y":0.83},{"x":233,"y":0.78},{"x":235,"y":0.81},{"x":237,"y":0.76},{"x":239,"y":0.79},{"x":241,"y":0.73},{"x":243,"y":0.77},{"x":245,"y":0.71},{"x":247,"y":0.75},{"x":249,"y":0.73},{"x":251,"y":0.68},{"x":253,"y":0.71},{"x":255,"y":0.75},
{"x":257,"y":0.84},{"x":259,"y":0.86},{"x":261,"y":0.82},{"x":263,"y":0.84},{"x":265,"y":0.79},{"x":267,"y":0.82},{"x":269,"y":0.77},{"x":271,"y":0.80},{"x":273,"y":0.75},{"x":275,"y":0.78},{"x":277,"y":0.72},{"x":279,"y":0.81},{"x":281,"y":0.79},{"x":283,"y":0.84},{"x":285,"y":0.77},{"x":287,"y":0.81},
{"x":289,"y":0.72},{"x":291,"y":0.68},{"x":293,"y":0.70},{"x":295,"y":0.66},{"x":297,"y":0.69},{"x":299,"y":0.64},{"x":301,"y":0.67},{"x":303,"y":0.62},{"x":305,"y":0.65},{"x":307,"y":0.68},{"x":309,"y":0.63},{"x":311,"y":0.66},{"x":313,"y":0.60},{"x":315,"y":0.63},{"x":317,"y":0.66},{"x":319,"y":0.61},
{"x":321,"y":0.72},{"x":323,"y":0.75},{"x":325,"y":0.70},{"x":327,"y":0.73},{"x":329,"y":0.67},{"x":331,"y":0.71},{"x":333,"y":0.65},{"x":335,"y":0.69},{"x":337,"y":0.63},{"x":339,"y":0.67},{"x":341,"y":0.70},{"x":343,"y":0.66},{"x":345,"y":0.68},{"x":347,"y":0.63},{"x":349,"y":0.66},{"x":351,"y":0.62},
{"x":353,"y":0.71},{"x":355,"y":0.73},{"x":357,"y":0.67},{"x":359,"y":0.70},{"x":361,"y":0.65},{"x":363,"y":0.68},{"x":365,"y":0.63},{"x":367,"y":0.66},{"x":369,"y":0.70},{"x":371,"y":0.64},{"x":373,"y":0.67},{"x":375,"y":0.62},{"x":377,"y":0.65},{"x":379,"y":0.69},{"x":381,"y":0.63},{"x":383,"y":0.66},
{"x":385,"y":0.78},{"x":387,"y":0.80},{"x":389,"y":0.76},{"x":391,"y":0.78},{"x":393,"y":0.74},{"x":395,"y":0.77},{"x":397,"y":0.72},{"x":399,"y":0.75},{"x":401,"y":0.70},{"x":403,"y":0.73},{"x":405,"y":0.67},{"x":407,"y":0.71},{"x":409,"y":0.65},{"x":411,"y":0.69},{"x":413,"y":0.67},{"x":415,"y":0.72},
{"x":417,"y":0.75},{"x":419,"y":0.77},{"x":421,"y":0.73},{"x":423,"y":0.75},{"x":425,"y":0.71},{"x":427,"y":0.74},{"x":429,"y":0.69},{"x":431,"y":0.72},{"x":433,"y":0.67},{"x":435,"y":0.70},{"x":437,"y":0.65},{"x":439,"y":0.69},{"x":441,"y":0.63},{"x":443,"y":0.67},{"x":445,"y":0.70},{"x":447,"y":0.65},
{"x":449,"y":0.79},{"x":451,"y":0.81},{"x":453,"y":0.77},{"x":455,"y":0.79},{"x":457,"y":0.75},{"x":459,"y":0.77},{"x":461,"y":0.73},{"x":463,"y":0.76},{"x":465,"y":0.71},{"x":467,"y":0.74},{"x":469,"y":0.69},{"x":471,"y":0.72},{"x":473,"y":0.67},{"x":475,"y":0.70},{"x":477,"y":0.73},{"x":479,"y":0.68},
{"x":481,"y":0.77},{"x":483,"y":0.78},{"x":485,"y":0.74},{"x":487,"y":0.76},{"x":489,"y":0.72},{"x":491,"y":0.75},{"x":493,"y":0.70},{"x":495,"y":0.73},{"x":497,"y":0.68},{"x":499,"y":0.71},{"x":501,"y":0.66},{"x":503,"y":0.70},{"x":505,"y":0.64},{"x":507,"y":0.68},{"x":509,"y":0.71},{"x":511,"y":0.66},
{"x":513,"y":0.80},{"x":515,"y":0.82},{"x":517,"y":0.78},{"x":519,"y":0.80},{"x":521,"y":0.76},{"x":523,"y":0.79},{"x":525,"y":0.74},{"x":527,"y":0.77},{"x":529,"y":0.72},{"x":531,"y":0.75},{"x":533,"y":0.70},{"x":535,"y":0.74},{"x":537,"y":0.68},{"x":539,"y":0.72},{"x":541,"y":0.70},{"x":543,"y":0.74},
{"x":545,"y":0.79},{"x":547,"y":0.80},{"x":549,"y":0.76},{"x":551,"y":0.78},{"x":553,"y":0.74},{"x":555,"y":0.77},{"x":557,"y":0.72},{"x":559,"y":0.75},{"x":561,"y":0.70},{"x":563,"y":0.74},{"x":565,"y":0.68},{"x":567,"y":0.72},{"x":569,"y":0.70},{"x":571,"y":0.67},{"x":573,"y":0.71},{"x":575,"y":0.74},
{"x":577,"y":0.81},{"x":579,"y":0.82},{"x":581,"y":0.78},{"x":583,"y":0.80},{"x":585,"y":0.76},{"x":587,"y":0.79},{"x":589,"y":0.74},{"x":591,"y":0.77},{"x":593,"y":0.72},{"x":595,"y":0.76},{"x":597,"y":0.70},{"x":599,"y":0.74},{"x":601,"y":0.68},{"x":603,"y":0.72},{"x":605,"y":0.70},{"x":607,"y":0.76},
{"x":609,"y":0.80},{"x":611,"y":0.81},{"x":613,"y":0.77},{"x":615,"y":0.79},{"x":617,"y":0.75},{"x":619,"y":0.78},{"x":621,"y":0.73},{"x":623,"y":0.76},{"x":625,"y":0.71},{"x":627,"y":0.75},{"x":629,"y":0.69},{"x":631,"y":0.73},{"x":633,"y":0.71},{"x":635,"y":0.68},{"x":637,"y":0.72},{"x":639,"y":0.70},
{"x":641,"y":0.82},{"x":643,"y":0.84},{"x":645,"y":0.80},{"x":647,"y":0.82},{"x":649,"y":0.78},{"x":651,"y":0.81},{"x":653,"y":0.76},{"x":655,"y":0.79},{"x":657,"y":0.74},{"x":659,"y":0.78},{"x":661,"y":0.72},{"x":663,"y":0.76},{"x":665,"y":0.70},{"x":667,"y":0.74},{"x":669,"y":0.71},{"x":671,"y":0.75},
{"x":673,"y":0.81},{"x":675,"y":0.82},{"x":677,"y":0.78},{"x":679,"y":0.80},{"x":681,"y":0.76},{"x":683,"y":0.79},{"x":685,"y":0.74},{"x":687,"y":0.77},{"x":689,"y":0.72},{"x":691,"y":0.76},{"x":693,"y":0.70},{"x":695,"y":0.74},{"x":697,"y":0.72},{"x":699,"y":0.69},{"x":701,"y":0.73},{"x":703,"y":0.77},
{"x":705,"y":0.83},{"x":707,"y":0.84},{"x":709,"y":0.80},{"x":711,"y":0.82},{"x":713,"y":0.78},{"x":715,"y":0.81},{"x":717,"y":0.76},{"x":719,"y":0.80},{"x":721,"y":0.74},{"x":723,"y":0.78},{"x":725,"y":0.72},{"x":727,"y":0.76},{"x":729,"y":0.74},{"x":731,"y":0.71},{"x":733,"y":0.75},{"x":735,"y":0.73},
{"x":737,"y":0.82},{"x":739,"y":0.83},{"x":741,"y":0.79},{"x":743,"y":0.81},{"x":745,"y":0.77},{"x":747,"y":0.80},{"x":749,"y":0.75},{"x":751,"y":0.79},{"x":753,"y":0.73},{"x":755,"y":0.77},{"x":757,"y":0.72},{"x":759,"y":0.75},{"x":761,"y":0.73},{"x":763,"y":0.77},{"x":765,"y":0.74},{"x":767,"y":0.79},
{"x":769,"y":0.87},{"x":771,"y":0.89},{"x":773,"y":0.86},{"x":775,"y":0.88},{"x":777,"y":0.84},{"x":779,"y":0.87},{"x":781,"y":0.82},{"x":783,"y":0.86},{"x":785,"y":0.80},{"x":787,"y":0.84},{"x":789,"y":0.79},{"x":791,"y":0.82},{"x":793,"y":0.78},{"x":795,"y":0.81},{"x":797,"y":0.85},{"x":799,"y":0.82},
{"x":801,"y":0.89},{"x":803,"y":0.91},{"x":805,"y":0.87},{"x":807,"y":0.90},{"x":809,"y":0.85},{"x":811,"y":0.89},{"x":813,"y":0.83},{"x":815,"y":0.87},{"x":817,"y":0.81},{"x":819,"y":0.85},{"x":821,"y":0.80},{"x":823,"y":0.84},{"x":825,"y":0.78},{"x":827,"y":0.82},{"x":829,"y":0.80},{"x":831,"y":0.85},
{"x":833,"y":0.89},{"x":835,"y":0.90},{"x":837,"y":0.86},{"x":839,"y":0.88},{"x":841,"y":0.84},{"x":843,"y":0.87},{"x":845,"y":0.82},{"x":847,"y":0.86},{"x":849,"y":0.80},{"x":851,"y":0.84},{"x":853,"y":0.79},{"x":855,"y":0.82},{"x":857,"y":0.78},{"x":859,"y":0.84},{"x":861,"y":0.82},{"x":863,"y":0.89},
{"x":865,"y":0.89},{"x":867,"y":0.91},{"x":869,"y":0.87},{"x":871,"y":0.89},{"x":873,"y":0.85},{"x":875,"y":0.88},{"x":877,"y":0.83},{"x":879,"y":0.87},{"x":881,"y":0.81},{"x":883,"y":0.85},{"x":885,"y":0.79},{"x":887,"y":0.83},{"x":889,"y":0.77},{"x":891,"y":0.81},{"x":893,"y":0.80},{"x":895,"y":0.78},
{"x":897,"y":0.89},{"x":899,"y":0.90},{"x":901,"y":0.86},{"x":903,"y":0.89},{"x":905,"y":0.84},{"x":907,"y":0.88},{"x":909,"y":0.82},{"x":911,"y":0.86},{"x":913,"y":0.80},{"x":915,"y":0.84},{"x":917,"y":0.78},{"x":919,"y":0.82},{"x":921,"y":0.76},{"x":923,"y":0.80},{"x":925,"y":0.86},{"x":927,"y":0.84},
{"x":929,"y":0.89},{"x":931,"y":0.90},{"x":933,"y":0.86},{"x":935,"y":0.89},{"x":937,"y":0.84},{"x":939,"y":0.88},{"x":941,"y":0.82},{"x":943,"y":0.86},{"x":945,"y":0.80},{"x":947,"y":0.84},{"x":949,"y":0.78},{"x":951,"y":0.82},{"x":953,"y":0.76},{"x":955,"y":0.79},{"x":957,"y":0.81},{"x":959,"y":0.78},
{"x":961,"y":0.89},{"x":963,"y":0.90},{"x":965,"y":0.86},{"x":967,"y":0.89},{"x":969,"y":0.84},{"x":971,"y":0.88},{"x":973,"y":0.82},{"x":975,"y":0.86},{"x":977,"y":0.80},{"x":979,"y":0.84},{"x":981,"y":0.78},{"x":983,"y":0.82},{"x":985,"y":0.76},{"x":987,"y":0.80},{"x":989,"y":0.78},{"x":991,"y":0.82},
{"x":993,"y":0.90},{"x":995,"y":0.92},{"x":997,"y":0.88},{"x":999,"y":0.90},{"x":1001,"y":0.86},{"x":1003,"y":0.90},{"x":1005,"y":0.84},{"x":1007,"y":0.88},{"x":1009,"y":0.82},{"x":1011,"y":0.86},{"x":1013,"y":0.80},{"x":1015,"y":0.84},{"x":1017,"y":0.78},{"x":1019,"y":0.82},{"x":1021,"y":0.80},{"x":1023,"y":0.76}]
},
"hconcat":[
{"width":286,"height":236,
 "title":{"text":"(a)","orient":"bottom","anchor":"middle","frame":"group","dx":-13,"offset":38},
 "layer":[
  {"data":{"name":"a"},"mark":{"type":"point","filled":true,"opacity":1,"size":11},
   "encoding":{
    "x":{"field":"x","type":"quantitative","axis":{"orient":"top","values":[0,100,200,300,400,500,600,700,800,900,1000,1100],"labels":false,"title":null,"tickSize":-4}},
    "y":{"field":"y","type":"quantitative","axis":{"orient":"right","values":[0.5,0.75,1,1.25,1.5,1.75,2],"labels":false,"title":null,"tickSize":-4}},
    "fill":{"datum":"MODGEMM","type":"nominal","scale":{"range":["#ff0000"]},"legend":{"orient":"none","legendX":194.5,"legendY":47,"symbolType":"circle","symbolSize":11,"labelOffset":5,"title":null}}
   }},
  {"data":{"name":"r"},"mark":{"type":"rule","strokeWidth":2},
   "encoding":{
    "x":{"field":"x","type":"quantitative","scale":{"domain":[0,1100],"nice":false,"zero":false},"axis":{"orient":"bottom","values":[0,100,200,300,400,500,600,700,800,900,1000,1100],"labelExpr":"datum.value % 200 == 0 ? format(datum.value, '.1f') : ''","title":"Matrix Dimension","tickSize":-4,"labelPadding":10,"titlePadding":2}},
    "x2":{"field":"x2"},
    "y":{"field":"y","type":"quantitative","scale":{"domain":[0.5,2],"nice":false,"zero":false},"axis":{"orient":"left","values":[0.5,0.75,1,1.25,1.5,1.75,2],"labelExpr":"(datum.value*4) % 2 == 0 ? format(datum.value, '.1f') : ''","title":"Normalized Execution Time","tickSize":-4,"labelPadding":8,"titlePadding":8}},
    "stroke":{"datum":"DGEFMM","type":"nominal","scale":{"range":["#555555"]},"legend":{"orient":"none","legendX":172.6,"legendY":30,"symbolType":"stroke","symbolSize":529,"symbolStrokeWidth":2,"labelOffset":6,"title":null}}
   }}
 ],
 "resolve":{"axis":{"x":"independent","y":"independent"}}
},
{"width":286,"height":236,
 "title":{"text":"(b)","orient":"bottom","anchor":"middle","frame":"group","dx":-47,"offset":38},
 "layer":[
  {"data":{"name":"b"},"mark":{"type":"point","filled":true,"opacity":1,"size":11},
   "encoding":{
    "x":{"field":"x","type":"quantitative","axis":{"orient":"top","values":[0,100,200,300,400,500,600,700,800,900,1000,1100],"labels":false,"title":null,"tickSize":-4}},
    "y":{"field":"y","type":"quantitative","axis":{"orient":"right","values":[0.5,0.75,1,1.25,1.5,1.75,2],"labels":false,"title":null,"tickSize":-4}},
    "fill":{"datum":"DGEMMW","type":"nominal","scale":{"range":["#0000ff"]},"legend":{"orient":"none","legendX":194.5,"legendY":47,"symbolType":"circle","symbolSize":11,"labelOffset":5,"title":null}}
   }},
  {"data":{"name":"r"},"mark":{"type":"rule","strokeWidth":2},
   "encoding":{
    "x":{"field":"x","type":"quantitative","scale":{"domain":[0,1100],"nice":false,"zero":false},"axis":{"orient":"bottom","values":[0,100,200,300,400,500,600,700,800,900,1000,1100],"labelExpr":"datum.value % 200 == 0 ? format(datum.value, '.1f') : ''","title":"Matrix Dimension","tickSize":-4,"labelPadding":10,"titlePadding":2}},
    "x2":{"field":"x2"},
    "y":{"field":"y","type":"quantitative","scale":{"domain":[0.5,2],"nice":false,"zero":false},"axis":{"orient":"left","values":[0.5,0.75,1,1.25,1.5,1.75,2],"labelExpr":"(datum.value*4) % 2 == 0 ? format(datum.value, '.1f') : ''","title":"Normalized Execution Time","tickSize":-4,"labelPadding":8,"titlePadding":8}},
    "stroke":{"datum":"DGEFMM","type":"nominal","scale":{"range":["#555555"]},"legend":{"orient":"none","legendX":172.6,"legendY":30,"symbolType":"stroke","symbolSize":529,"symbolStrokeWidth":2,"labelOffset":6,"title":null}}
   }}
 ],
 "resolve":{"axis":{"x":"independent","y":"independent"}}
}
],
"spacing":130,
"bounds":"flush",
"resolve":{"scale":{"fill":"independent","stroke":"independent"},"legend":{"fill":"independent","stroke":"independent"}}
}
